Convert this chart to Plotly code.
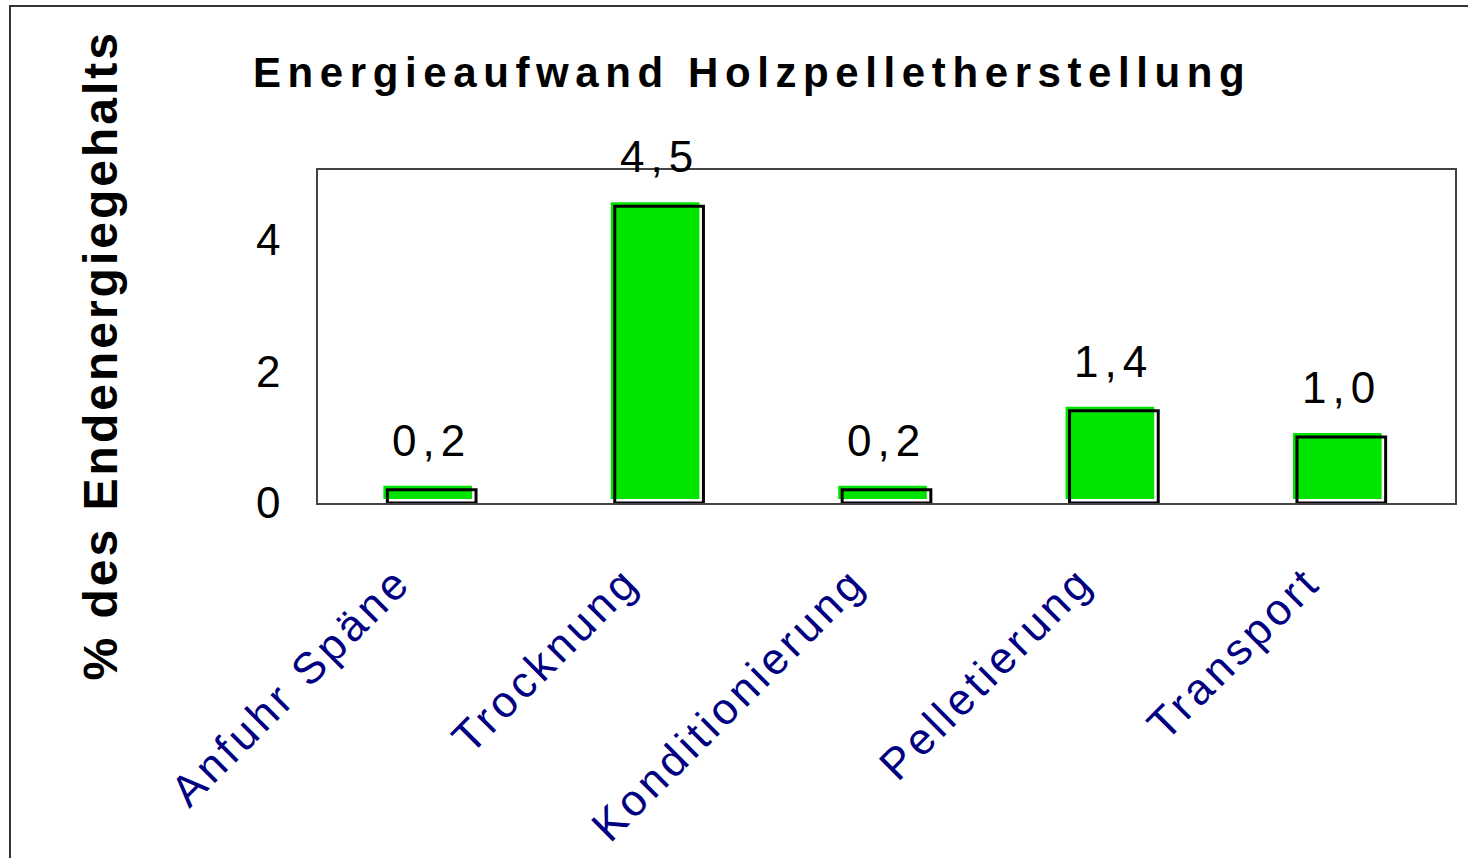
import plotly.graph_objects as go

categories = ["Anfuhr Späne", "Trocknung", "Konditionierung", "Pelletierung", "Transport"]
values = [0.2, 4.5, 0.2, 1.4, 1.0]
value_labels = ["0,2", "4,5", "0,2", "1,4", "1,0"]
y_ticks = [0, 2, 4]

W, H = 1468, 858
ml, mr, mt, mb = 318, 13, 170, 355
pw, ph = W - ml - mr, H - mt - mb
ymax = 5.05
px_per_unit = ph / ymax
cat_px = pw / len(categories)

bar_w = 0.39
shift_x = 4 / cat_px
shift_y = 4 / px_per_unit

CAT_SPACING = 4  # px letter spacing for category labels
VAL_SPACING = 6
TITLE_SPACING = 6.6
YTITLE_SPACING = 3

fig = go.Figure()
# green filled bars (slightly shifted up-left)
fig.add_trace(go.Bar(
    x=categories, y=values, base=shift_y,
    width=bar_w, offset=-bar_w / 2 - shift_x,
    marker=dict(color="#00e400", line=dict(width=0)),
    hoverinfo="skip", showlegend=False,
))
# black outline bars
fig.add_trace(go.Bar(
    x=categories, y=values,
    width=bar_w, offset=-bar_w / 2,
    marker=dict(color="rgba(0,0,0,0)", line=dict(color="black", width=3)),
    showlegend=False,
))

annotations = []
for c, v, t in zip(categories, values, value_labels):
    annotations.append(dict(
        x=c, y=v, text=t, showarrow=False, xref="x", yref="y",
        yanchor="bottom", yshift=23,
        font=dict(family="Liberation Sans", size=44, color="black"),
        name="val",
    ))
# category labels (rotated), anchored at their upper-right corner
for c in categories:
    comp = (len(c) - 1) * CAT_SPACING / 2 * 0.707
    annotations.append(dict(
        x=c, y=0, xref="x", yref="paper", text=c, textangle=-45,
        showarrow=False, xanchor="right", yanchor="top",
        xshift=-10 - comp, yshift=-52 - comp,
        font=dict(family="Liberation Sans", size=44, color="#000080"),
        name="cat",
    ))
annotations.append(dict(
    x=(100 - ml) / pw, y=(H - mb - 355) / ph, xref="paper", yref="paper",
    text="% des Endenergiegehalts", textangle=-90, showarrow=False,
    xanchor="center", yanchor="middle",
    font=dict(family="Liberation Sans", size=48, color="black", weight="bold"),
    name="ytitle",
))

fig.update_layout(
    width=W, height=H,
    margin=dict(l=ml, r=mr, t=mt, b=mb),
    paper_bgcolor="white", plot_bgcolor="white",
    barmode="overlay",
    title=dict(
        text="Energieaufwand Holzpelletherstellung",
        xref="container", yref="container",
        x=253 / W, xanchor="left", y=1 - 72 / H, yanchor="middle",
        font=dict(family="Liberation Sans", size=42, color="black", weight="bold"),
    ),
    annotations=annotations,
    shapes=[dict(
        type="rect", xref="paper", yref="paper",
        x0=(10 - ml) / pw, x1=1 + 20 / pw,
        y0=-(mb + 20) / ph, y1=1 + (mt - 6) / ph,
        line=dict(color="#333333", width=2), fillcolor="rgba(0,0,0,0)", layer="below",
    )],
)
fig.update_xaxes(
    type="category", categoryorder="array", categoryarray=categories,
    range=[-0.5, len(categories) - 0.5], autorange=False,
    showline=True, mirror=True, linecolor="#444444", linewidth=1.5,
    showgrid=False, ticks="", showticklabels=False,
)
fig.update_yaxes(
    range=[0, ymax], autorange=False, showline=True, mirror=True,
    linecolor="#444444", linewidth=1.5,
    showgrid=False, zeroline=False, ticks="",
    tickvals=y_ticks, ticktext=[str(t) for t in y_ticks],
    tickfont=dict(family="Liberation Sans", size=44, color="black"),
    ticklabelstandoff=27,
)

n_val = len(value_labels)
n_cat = len(categories)
post = """
document.body.style.margin = '0';
document.body.style.overflow = 'hidden';
var gd = document.getElementById('{plot_id}');
function applySpacing(){
  gd.querySelectorAll('.gtitle').forEach(function(e){ e.style.letterSpacing='%TS%px'; });
  var ann = gd.querySelectorAll('.annotation-text');
  ann.forEach(function(e, i){
    if (i < %NV%) e.style.letterSpacing = '%VS%px';
    else if (i < %NV% + %NC%) e.style.letterSpacing = '%CS%px';
    else e.style.letterSpacing = '%YS%px';
  });
}
applySpacing();
gd.on('plotly_afterplot', applySpacing);
"""
post = (post.replace("%TS%", str(TITLE_SPACING)).replace("%NV%", str(n_val))
        .replace("%NC%", str(n_cat)).replace("%VS%", str(VAL_SPACING))
        .replace("%CS%", str(CAT_SPACING)).replace("%YS%", str(YTITLE_SPACING)))
fig.write_html("out.html", post_script=post, config={"displayModeBar": False})
